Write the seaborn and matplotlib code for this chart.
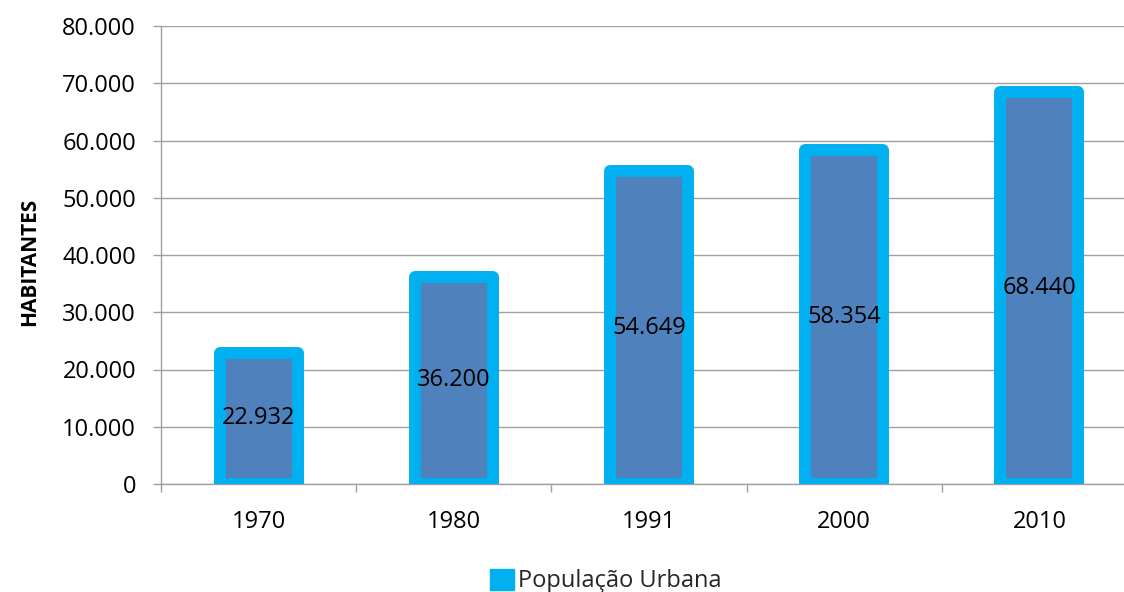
import matplotlib
matplotlib.use("Agg")
import matplotlib.pyplot as plt
from matplotlib.patches import Patch
from matplotlib.ticker import FixedLocator, FuncFormatter
import numpy as np
import pandas as pd
import seaborn as sns

# Urban population by census year
anos = ["1970", "1980", "1991", "2000", "2010"]
populacao = [22932, 36200, 54649, 58354, 68440]
serie = "População Urbana"
y_ticks = [0, 10000, 20000, 30000, 40000, 50000, 60000, 70000, 80000]

FILL = "#4F81BD"
EDGE = "#00B0F0"
GRID = "#A0A0A0"


def milhar(v):
    return f"{int(round(v)):,}".replace(",", ".")


sns.set_theme(style="white")
plt.rcParams["font.family"] = ["Open Sans", "DejaVu Sans"]
plt.rcParams["font.size"] = 17

df = pd.DataFrame({"ano": anos, "habitantes": populacao})

fig = plt.figure(figsize=(11.24, 5.92), dpi=100)
ax = fig.add_axes([161 / 1124, 108 / 592, 976 / 1124, 458 / 592])

sns.barplot(data=df, x="ano", y="habitantes", order=anos, width=0.4,
            color=FILL, edgecolor=EDGE, linewidth=8.6, saturation=1,
            ax=ax, zorder=3)
for p in ax.patches:
    p.set_joinstyle("round")
    p.set_facecolor(FILL)

ax.bar_label(ax.containers[0], labels=[milhar(v) for v in populacao],
             label_type="center", fontsize=17, color="black", zorder=5)

ax.set_ylim(0, 80000)
ax.set_xlim(-0.5, len(anos) - 0.5)
ax.yaxis.set_major_locator(FixedLocator(y_ticks))
ax.yaxis.set_major_formatter(FuncFormatter(lambda v, _: milhar(v)))
ax.grid(axis="y", color=GRID, linewidth=1.0, zorder=0)
ax.set_axisbelow(True)

# category boundary ticks on the x axis
ax.set_xticks(np.arange(-0.5, len(anos) + 0.5, 1.0), minor=True)
ax.tick_params(axis="x", which="major", length=0, pad=19, labelsize=17,
               labelcolor="black")
ax.tick_params(axis="x", which="minor", bottom=True, length=6,
               width=1.0, color=GRID)
ax.tick_params(axis="y", left=True, length=6, width=1.0, color=GRID,
               pad=12, labelsize=17, labelcolor="black")

for side in ["top", "right"]:
    ax.spines[side].set_visible(False)
for side in ["left", "bottom"]:
    ax.spines[side].set_color(GRID)
    ax.spines[side].set_linewidth(1.0)

ax.set_xlabel("")
ax.set_ylabel("HABITANTES", fontsize=15, fontweight="bold", color="black")
ax.yaxis.label.set(rotation_mode="default", va="center", ha="center")
ax.yaxis.set_label_coords(-0.135, 0.485)

handle = Patch(facecolor=EDGE, edgecolor=EDGE, label=serie)
fig.legend(handles=[handle], loc="center left",
           bbox_to_anchor=(490 / 1124, 1 - 581 / 592), frameon=False,
           borderpad=0, borderaxespad=0, handlelength=1.0,
           handleheight=1.0, handletextpad=0.2, fontsize=17)

fig.savefig("out.png", dpi=100)
